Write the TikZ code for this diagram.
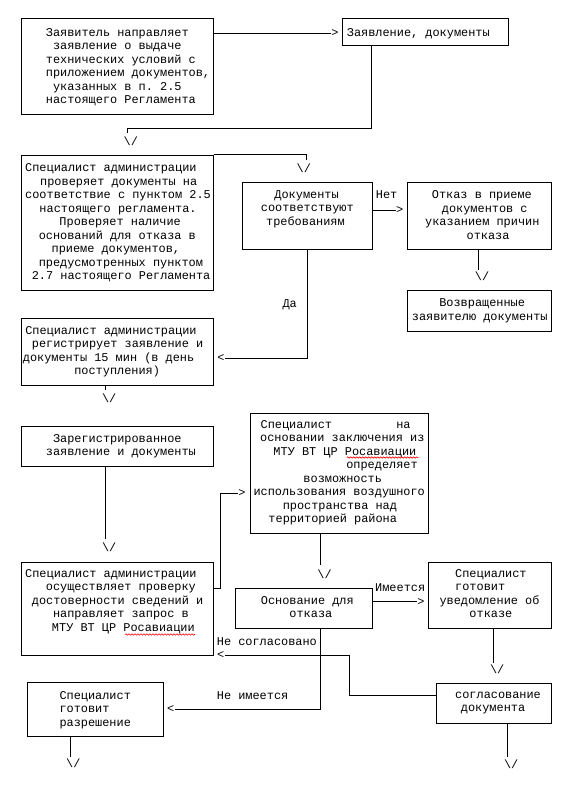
\documentclass[tikz,border=0pt]{standalone}
\usepackage{fontspec}
\newfontfamily\mono{Liberation Mono}
\usetikzlibrary{decorations.pathmorphing}
\newlength\cw \setlength\cw{7.14pt}
\newcommand\ind[1]{\hspace*{#1\cw}}
\newcommand\sstr{\rule[-0.2em]{0pt}{0.95em}}
\newcommand\tf{\mono\fontsize{11.9}{13.5}\selectfont\frenchspacing}
\newcommand\mkbox[5]{\node[box, minimum width={#4pt-#2pt}, minimum height={#5pt-#3pt}] (#1) at ({(#2+#4)/2},{(#3+#5)/2}) {};}
\begin{document}
\begin{tikzpicture}[x=1pt,y=-1pt,
  box/.style={draw, line width=1pt, inner sep=0pt, rectangle},
  txt/.style={font=\tf, inner sep=0pt, anchor=west, align=left, execute at begin node=\sstr, execute at end node=\sstr},
  glyph/.style={font=\tf, inner sep=0pt, anchor=center},
  conn/.style={line width=1pt},
  squig/.style={red, line width=0.6pt, decorate, decoration={snake, amplitude=0.7pt, segment length=3pt}}]
\fill[white] (0,0) rectangle (579,792);
\useasboundingbox (0,0) rectangle (579,792);
% boxes
\mkbox{b1}{21}{19}{213}{114}
\mkbox{b2}{342}{19}{508}{46}
\mkbox{b3}{21}{155}{213}{290}
\mkbox{bdoc}{242}{182}{372}{249}
\mkbox{botk}{407}{182}{551}{249}
\mkbox{bvozv}{407}{290}{551}{331}
\mkbox{breg}{21}{318}{213}{385}
\mkbox{bzar}{21}{426}{213}{466}
\mkbox{bosush}{21}{562}{213}{655}
\mkbox{bspec}{250}{413}{428}{533}
\mkbox{bosn}{235}{588}{372}{628}
\mkbox{buved}{428}{562}{551}{628}
\mkbox{bsogl}{436}{683}{551}{723}
\mkbox{brazr}{27}{682}{163}{736}
% texts
\node[txt] (t1) at (45.7,67) {Заявитель направляет\\
\ind{1}заявление о выдаче\\
технических условий с\\
приложением документов,\\
\ind{1}указанных в п. 2.5\\
настоящего Регламента};
\node[txt] (t2) at (346.7,33.3) {Заявление, документы};
\node[txt] (t3) at (25,223) {Специалист администрации\\
\ind{2.1}проверяет документы на\\
соответствие с пунктом 2.5\\
\ind{2}настоящего регламента.\\
\ind{4.8}Проверяет наличие\\
\ind{1.9}оснований для отказа в\\
\ind{3.7}приеме документов,\\
\ind{1.9}предусмотренных пунктом\\
\ind{0.93}2.7 настоящего Регламента};
\node[txt] (t4) at (260.7,209.2) {\ind{1.9}Документы\\
соответствуют\\
\ind{0.74}требованиям};
\node[txt] (t5) at (425,216) {\ind{0.94}Отказ в приеме\\
\ind{2.34}документов с\\
указанием причин\\
\ind{5.8}отказа};
\node[txt] (t6) at (411.7,310.7) {\ind{3.84}Возвращенные\\
заявителю документы};
\node[txt] (t7) at (22.7,352) {\ind{0.33}Специалист администрации\\
\ind{1.26}регистрирует заявление и\\
документы 15 мин (в день\\
\ind{7.2}поступления)};
\node[txt] (t8) at (45.7,446.3) {\ind{1}Зарегистрированное\\
заявление и документы};
\node[txt] (t9) at (25,601.3) {Специалист администрации\\
\ind{2.9}осуществляет проверку\\
\ind{0.94}достоверности сведений и\\
\ind{3.9}направляет запрос в\\
\ind{3.75}МТУ ВТ ЦР Росавиации};
\node[txt] (t10) at (253.3,472.5) {\ind{1}Специалист\ind{9}на\\
\ind{0.94}основании заключения из\\
\ind{2.8}МТУ ВТ ЦР Росавиации\\
\ind{13}определяет\\
\ind{7}возможность\\
использования воздушного\\
\ind{4.1}пространства над\\
\ind{2.1}территорией района};
\node[txt] (t11) at (260.7,608.3) {Основание для\\
\ind{4}отказа};
\node[txt] (t12) at (439.3,594.8) {\ind{2.2}Специалист\\
\ind{2.2}готовит\\
уведомление об\\
\ind{4.2}отказе};
\node[txt] (t13) at (455,703) {согласование\\
\ind{0.8}документа};
\node[txt] (t14) at (59.3,709.8) {Специалист\\
готовит\\
разрешение};
% labels
\node[txt] (l1) at (375.7,195.7) {Нет};
\node[txt] (l2) at (282.3,304) {Да};
\node[txt] (l3) at (375,588.3) {Имеется};
\node[txt] (l4) at (216.7,642.3) {Не согласовано};
\node[txt] (l5) at (216.7,696.7) {Не имеется};
% arrow glyphs
\node[glyph] (g1) at (335,33.3) {>};
\node[glyph] (g2) at (399.7,210) {>};
\node[glyph] (g3) at (221,358.3) {<};
\node[glyph] (g4) at (242,493.3) {>};
\node[glyph] (g5) at (421,601.7) {>};
\node[glyph] (g6) at (220.8,655) {<};
\node[glyph] (g7) at (170.8,709) {<};
\node[glyph] (v1) at (130.8,141.2) {\textbackslash/};
\node[glyph] (v2) at (303.8,168) {\textbackslash/};
\node[glyph] (v3) at (482,276.2) {\textbackslash/};
\node[glyph] (v4) at (109.2,398) {\textbackslash/};
\node[glyph] (v5) at (109.2,547) {\textbackslash/};
\node[glyph] (v6) at (324.5,574.2) {\textbackslash/};
\node[glyph] (v7) at (497.2,669.2) {\textbackslash/};
\node[glyph] (v8) at (511.2,764.7) {\textbackslash/};
\node[glyph] (v9) at (73.3,763.3) {\textbackslash/};
% free ends
\coordinate (k1) at (127.3,133.3);
\coordinate (k2) at (371.7,128);
\coordinate (k3) at (306.7,160);
\coordinate (k6) at (478.3,270);
\coordinate (k7) at (105.7,390);
\coordinate (k8) at (105.7,539.3);
\coordinate (k9) at (220,588.3);
\coordinate (k10) at (320.7,565);
\coordinate (k12) at (493.3,663.3);
\coordinate (k13) at (507.3,756.7);
\coordinate (k14) at (349.3,695.7);
\coordinate (k15) at (320.7,709);
\coordinate (k16) at (70,756.7);
% connectors
\draw[conn] (b1.east |- g1) -- (g1.west);
\draw[conn] (b2.south -| k2) -- (k2) -| (k1);
\draw[conn] (b3.north east) -| (k3);
\draw[conn] (bdoc.east |- g2) -- (g2.west);
\draw[conn] (bdoc.south) |- (g3.east);
\draw[conn] (botk.south -| k6) -- (k6);
\draw[conn] (breg.south -| k7) -- (k7);
\draw[conn] (bzar.south -| k8) -- (k8);
\draw[conn] (bosush.east |- k9) -- (k9) |- (g4.west);
\draw[conn] (bspec.south -| k10) -- (k10);
\draw[conn] (bosn.east |- g5) -- (g5.west);
\draw[conn] (buved.south -| k12) -- (k12);
\draw[conn] (bsogl.south -| k13) -- (k13);
\draw[conn] (bsogl.west |- k14) -- (k14) |- (g6.east);
\draw[conn] (bosn.south -| k15) -- (k15) -- (g7.east);
\draw[conn] (brazr.south -| k16) -- (k16);
% spell-check squiggles
\draw[squig] (125,634.5) -- (195,634.5);
\draw[squig] (346.7,457.5) -- (418.3,457.5);
\end{tikzpicture}
\end{document}
